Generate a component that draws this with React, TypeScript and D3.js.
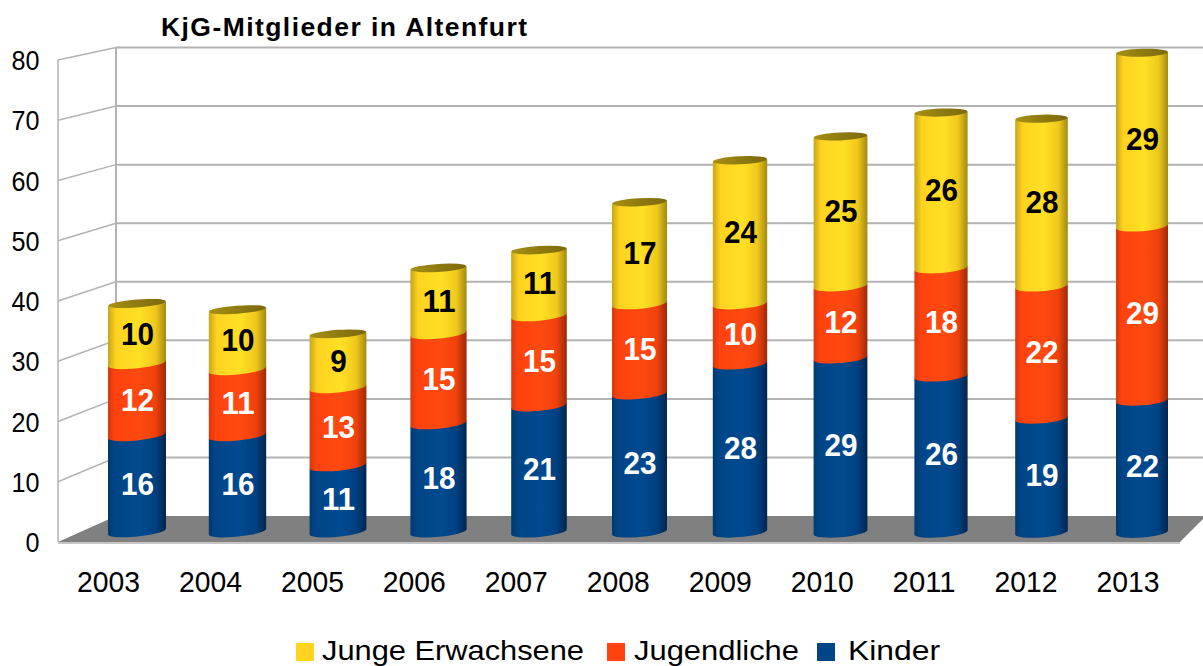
import * as d3 from 'd3';

const years = ['2003', '2004', '2005', '2006', '2007', '2008', '2009', '2010', '2011', '2012', '2013'];
const kinder = [16, 16, 11, 18, 21, 23, 28, 29, 26, 19, 22];
const jugendliche = [12, 11, 13, 15, 15, 15, 10, 12, 18, 22, 29];
const jungeErwachsene = [10, 10, 9, 11, 11, 17, 24, 25, 26, 28, 29];
const yTicks = [0, 10, 20, 30, 40, 50, 60, 70, 80];

const seriesKeys = ['Kinder', 'Jugendliche', 'Junge Erwachsene'];
const seriesValues: Record<string, number[]> = {
  Kinder: kinder,
  Jugendliche: jugendliche,
  'Junge Erwachsene': jungeErwachsene,
};
const legendItems = [
  { key: 'Junge Erwachsene', x: 296, textX: 322, textW: 262 },
  { key: 'Jugendliche', x: 607, textX: 634, textW: 165 },
  { key: 'Kinder', x: 817, textX: 848, textW: 92 },
];

const colors: Record<string, string> = {
  Kinder: '#004586',
  Jugendliche: '#ff420e',
  'Junge Erwachsene': '#ffd320',
};
const gradientId: Record<string, string> = {
  Kinder: 'gBlue',
  Jugendliche: 'gOrange',
  'Junge Erwachsene': 'gYellow',
};

const font = '"Liberation Sans", Arial, sans-serif';
const grid = '#b3b3b3';

// scales for the three planes of the fake 3d box
const yFront = d3.scaleLinear().domain([0, 80]).range([542, 60]);
const yBack = d3.scaleLinear().domain([0, 80]).range([516, 47.5]);
const yBar = d3.scaleLinear().domain([0, 80]).range([534.5, 54]);

const n = years.length - 1;
const barLeft = d3.scaleLinear().domain([0, n]).range([108, 1116]);
const barRight = d3.scaleLinear().domain([0, n]).range([166, 1168]);
const labelX = d3.scaleLinear().domain([0, n]).range([108.5, 1128]);
const capTilt = d3.scaleLinear().domain([0, n]).range([4.5, 1.5]);
const edgeTilt = d3.scaleLinear().domain([0, n]).range([6, 4]);

const rows = years.map((year, i) => ({
  year,
  Kinder: kinder[i],
  Jugendliche: jugendliche[i],
  'Junge Erwachsene': jungeErwachsene[i],
}));
const stacked = d3.stack<any>().keys(seriesKeys)(rows);

const BOW = 5;

function segmentPath(i: number, v0: number, v1: number, isTop: boolean) {
  const xl = barLeft(i);
  const xr = barRight(i);
  const w = xr - xl;
  const tilt = edgeTilt(i);
  const rot = (Math.atan2(-tilt, w) * 180) / Math.PI;
  const yb = yBar(v0);
  const yt = yBar(v1);
  const topRight = isTop ? yt - capTilt(i) : yt - tilt;
  const arc = `A${w / 2},${BOW} ${rot} 0 0 ${xr},${yb - tilt}`;
  return `M${xl},${yt}L${xl},${yb}${arc}L${xr},${topRight}Z`;
}

function Gradient({ id, stops }: { id: string; stops: [number, string][] }) {
  return (
    <linearGradient id={id} x1="0" x2="1" y1="0" y2="0">
      {stops.map(([o, c]) => (
        <stop key={o} offset={o} stopColor={c} />
      ))}
    </linearGradient>
  );
}

export default function App() {
  return (
    <svg width={1203} height={666} style={{ position: 'absolute', left: 0, top: 0, background: '#fff' }}>
      <defs>
        <Gradient id="gBlue" stops={[[0, '#003a70'], [0.12, '#004586'], [0.55, '#004a90'], [0.82, '#004080'], [1, '#00264f']]} />
        <Gradient id="gOrange" stops={[[0, '#d63a0e'], [0.12, '#ff420e'], [0.55, '#ff4a10'], [0.82, '#f0400c'], [1, '#9c2a08']]} />
        <Gradient id="gYellow" stops={[[0, '#c8a618'], [0.14, '#ffd320'], [0.55, '#ffe024'], [0.82, '#f0c81c'], [1, '#a28a12']]} />
        <Gradient id="gCap" stops={[[0, '#a89014'], [0.5, '#8f7a10'], [1, '#7c6a0c']]} />
      </defs>

      <text x={161} y={36} fontFamily={font} fontWeight="bold" fontSize={26.5} textLength={366} lengthAdjust="spacing" fill="#000">
        KjG-Mitglieder in Altenfurt
      </text>

      {/* floor */}
      <polygon points="58,542 116,516 1203,516 1203,519 1180,542" fill="#808080" />
      <line x1={58} x2={1180} y1={543} y2={543} stroke={grid} strokeWidth={1.5} />

      {/* walls and grid */}
      <line x1={58} x2={58} y1={yFront(80)} y2={yFront(0)} stroke={grid} strokeWidth={1.5} />
      <line x1={116} x2={116} y1={yBack(80)} y2={yBack(0)} stroke={grid} strokeWidth={2} />
      {yTicks.map((t) => (
        <g key={t}>
          {t > 0 && <line x1={58} x2={116} y1={yFront(t)} y2={yBack(t)} stroke={grid} strokeWidth={1.5} />}
          {t > 0 && <line x1={116} x2={1203} y1={yBack(t)} y2={yBack(t)} stroke={grid} strokeWidth={2} />}
          <text
            x={39.5}
            y={yFront(t) + 10}
            textAnchor="end"
            fontFamily={font}
            fontSize={27.5}
            textLength={String(t).length * 14}
            lengthAdjust="spacingAndGlyphs"
            fill="#000"
          >
            {t}
          </text>
        </g>
      ))}

      {/* cylinders, bottom segment first so the upper one covers its cap */}
      {stacked.map((layer) =>
        layer.map((d, i) => (
          <path
            key={layer.key + i}
            d={segmentPath(i, d[0], d[1], layer.key === 'Junge Erwachsene')}
            fill={`url(#${gradientId[layer.key]})`}
          />
        ))
      )}
      {stacked[2].map((d, i) => {
        const cx = (barLeft(i) + barRight(i)) / 2;
        const cy = yBar(d[1]) - capTilt(i) / 2 - 0.5;
        const w = barRight(i) - barLeft(i);
        return (
          <ellipse
            key={i}
            cx={cx}
            cy={cy}
            rx={w / 2}
            ry={4}
            fill="url(#gCap)"
            transform={`rotate(${(Math.atan2(-capTilt(i), w) * 180) / Math.PI} ${cx} ${cy})`}
          />
        );
      })}

      {/* value labels */}
      {stacked.map((layer) =>
        layer.map((d, i) => (
          <text
            key={layer.key + i}
            x={(barLeft(i) + barRight(i)) / 2 + 0.5}
            y={yBar((d[0] + d[1]) / 2) + 9}
            textAnchor="middle"
            fontFamily={font}
            fontWeight="bold"
            fontSize={32}
            textLength={String(seriesValues[layer.key][i]).length * 16.5}
            lengthAdjust="spacingAndGlyphs"
            fill={layer.key === 'Junge Erwachsene' ? '#000' : '#fff'}
          >
            {seriesValues[layer.key][i]}
          </text>
        ))
      )}

      {/* x axis */}
      {years.map((y, i) => (
        <text key={y} x={labelX(i)} y={592} textAnchor="middle" fontFamily={font} fontSize={30} textLength={63} lengthAdjust="spacingAndGlyphs" fill="#000">
          {y}
        </text>
      ))}

      {/* legend */}
      {legendItems.map((l) => (
        <g key={l.key}>
          <rect x={l.x} y={643} width={18} height={18} fill={colors[l.key]} />
          <text x={l.textX} y={660} fontFamily={font} fontSize={28} textLength={l.textW} lengthAdjust="spacingAndGlyphs" fill="#000">
            {l.key}
          </text>
        </g>
      ))}
    </svg>
  );
}
